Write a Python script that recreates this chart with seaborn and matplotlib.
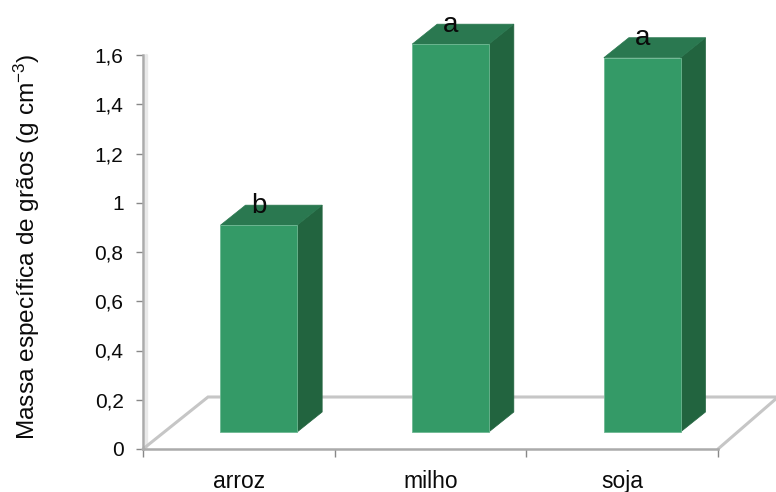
import matplotlib
matplotlib.use("Agg")
import matplotlib.pyplot as plt
from matplotlib.patches import Polygon
from matplotlib.transforms import Affine2D
import pandas as pd
import seaborn as sns

# Grain bulk density per crop, with the mean-separation letters
crops = ["arroz", "milho", "soja"]
density = [0.84, 1.575, 1.52]
letters = ["b", "a", "a"]
y_ticks = [0, 0.2, 0.4, 0.6, 0.8, 1.0, 1.2, 1.4, 1.6]
y_tick_labels = ["0", "0,2", "0,4", "0,6", "0,8", "1", "1,2", "1,4", "1,6"]

FRONT = "#349A67"
TOP = "#2A7850"
SIDE = "#22643F"
EDGE = "#6DB892"
AXIS = "#ABABAB"
FLOOR = "#C6C6C6"
WALL = "#E9E9E9"
INK = "#0A0A0A"

W, H = 776, 492
sns.set_theme(style="white")
plt.rcParams["font.family"] = ["Liberation Sans", "DejaVu Sans"]
plt.rcParams["mathtext.fontset"] = "custom"
plt.rcParams["mathtext.rm"] = "Liberation Sans"
plt.rcParams["mathtext.default"] = "regular"

fig = plt.figure(figsize=(W / 100, H / 100), dpi=100, facecolor="white")
ax = fig.add_axes([143 / W, 1 - 449 / H, 575 / W, 394 / H], facecolor="none")

frame = pd.DataFrame({"crop": crops, "density": density})
sns.barplot(data=frame, x="crop", y="density", color=FRONT, saturation=1,
            width=0.40, ax=ax, zorder=4, errorbar=None)
ax.set_xlim(-0.5, 2.5)
ax.set_ylim(0, 1.6)


def shifted(dx, dy):
    """Data transform moved by a display offset in pixels."""
    return ax.transData + Affine2D().translate(dx, dy)


# Perspective offsets: the front face sits inside the floor, the depth runs back from it
FACE_DX, FACE_DY = 20, 17
DEPTH = (25, 20)

for bar, letter in zip(ax.patches, letters):
    x0, x1 = bar.get_x(), bar.get_x() + bar.get_width()
    top = bar.get_height()
    base = shifted(FACE_DX, FACE_DY)
    bar.set_transform(base)
    bar.set_clip_on(False)
    bar.set_edgecolor(EDGE)
    bar.set_linewidth(0.6)

    front_left = base.transform((x0, top))
    front_right = base.transform((x1, top))
    bottom_right = base.transform((x1, 0))
    side = [front_right, bottom_right, bottom_right + DEPTH, front_right + DEPTH]
    lid = [front_left, front_right, front_right + DEPTH, front_left + DEPTH]
    for pts, colour in ((side, SIDE), (lid, TOP)):
        ax.add_patch(Polygon(pts, closed=True, transform=None, facecolor=colour,
                             edgecolor=colour, linewidth=0.5, zorder=3, clip_on=False))
    ax.annotate(letter, xy=((x0 + x1) / 2, top), xycoords=base,
                xytext=(0, 14), textcoords="offset points",
                ha="center", va="center", fontsize=20, color=INK,
                zorder=6, annotation_clip=False)

# Floor outline receding behind the category axis
left_corner = ax.transData.transform((-0.5, 0))
right_corner = ax.transData.transform((2.5, 0))
back_left = left_corner + (65, 52)
back_right = right_corner + (60, 52)
ax.plot(*zip(left_corner, back_left, back_right, right_corner), transform=None,
        color=FLOOR, lw=2.2, zorder=1, clip_on=False, solid_joinstyle="miter")

# Pale edge of the back wall beside the value axis
ax.plot(*zip(left_corner + (3, 1), left_corner + (3, 394)), transform=None,
        color=WALL, lw=2.4, zorder=0, clip_on=False)

# Axes
sns.despine(ax=ax, top=True, right=True)
for name in ("left", "bottom"):
    ax.spines[name].set_color(AXIS)
    ax.spines[name].set_linewidth(1.8)

ax.set_yticks(y_ticks)
ax.set_yticklabels(y_tick_labels, fontsize=15, color=INK)
ax.tick_params(axis="y", length=5, width=1, color="#888888", pad=9, left=True)

ax.set_xticks(range(len(crops)))
ax.set_xticklabels(crops, fontsize=16.5, color=INK)
ax.set_xticks([-0.5, 0.5, 1.5, 2.5], minor=True)
ax.tick_params(axis="x", which="major", length=0, pad=15)
ax.tick_params(axis="x", which="minor", length=6, width=1, color="#888888", bottom=True)

ax.set_xlabel("")
ax.set_ylabel("")
fig.text(27 / W, 1 - 247 / H, "Massa específica de grãos (g cm$^{-3}$)",
         rotation=90, ha="center", va="center", fontsize=17.6, color=INK)

fig.savefig("out.png", dpi=100, facecolor="white")
